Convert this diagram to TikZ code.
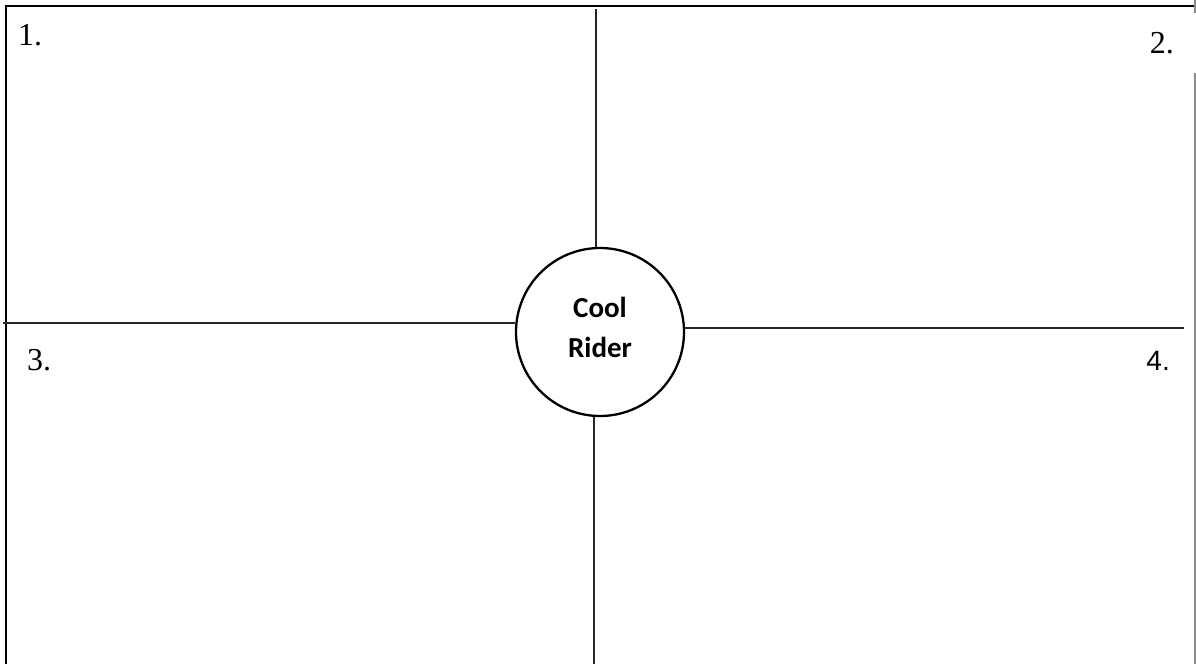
\documentclass[tikz,border=0pt]{standalone}
\usepackage{fontspec}
\setmainfont{Liberation Serif}
\newfontfamily\arialfont{Liberation Sans}
\newfontfamily\calibrifont{Carlito}
\usepackage{tikz}
\usetikzlibrary{positioning,calc}

\tikzset{
    divider/.style={line width=1.2pt, black!85},
    quadlabel/.style={font=\fontsize{32}{32}\selectfont, inner sep=0pt},
    hub/.style={circle, draw, line width=2.3pt, minimum size=168pt, inner sep=0pt},
    hubtext/.style={align=center, inner sep=0pt, font=\calibrifont\bfseries\fontsize{29}{40}\selectfont}
}

\begin{document}
\begin{tikzpicture}[x=1pt, y=-1pt]
                \useasboundingbox (0,0) rectangle (1196,664);
                % frame
                \draw[line width=2.6pt] (6,664) -- (6,6) -- (1196,6);
                \draw[line width=1.2pt, black!45] (1195,0) -- (1195,13);
                \draw[line width=1.2pt, black!45] (1195,73) -- (1195,664);
                % centre
                \node[hub] (rider) at (600,332) {};
                \node[hubtext] (ridertext) at ([yshift=5pt]rider.center) {Cool\\Rider};
                \coordinate (top) at (596,9);
                \coordinate (bottom) at (594,664);
                \coordinate (left) at (3,323);
                \coordinate (right) at (1184,328);
                \draw[divider] (top) -- (top |- rider.north);
                \draw[divider] (bottom) -- (bottom |- rider.south);
                \draw[divider] (left) -- (left -| rider.west);
                \draw[divider] (rider.east |- right) -- (right);
                % quadrant numbers
                \node[quadlabel, anchor=base west] (q1) at (18,45) {1.};
                \node[quadlabel, anchor=base east] (q2) at (1174,53) {2.};
                \node[quadlabel, anchor=base west] (q3) at (27,370) {3.};
                \node[quadlabel, anchor=base east, font=\arialfont\fontsize{28}{28}\selectfont] (q4) at (1170,370) {4.};
            \end{tikzpicture}
\end{document}
